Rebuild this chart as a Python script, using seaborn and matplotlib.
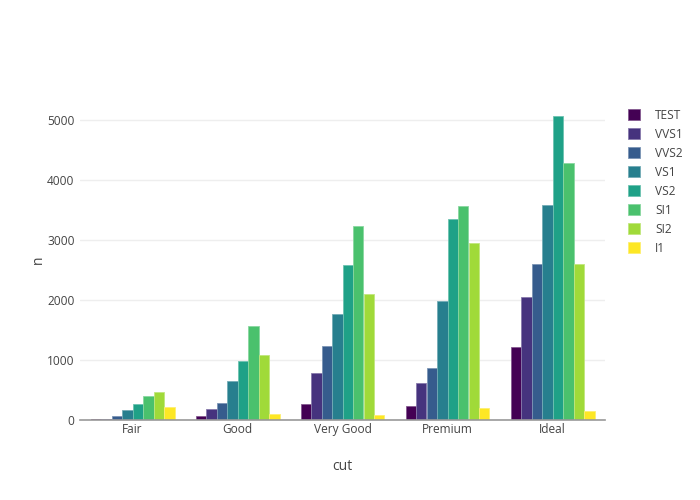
import seaborn as sns
import matplotlib.pyplot as plt
import matplotlib.colors as mcolors
import pandas as pd

# Dados (diamonds: contagem por corte e claridade)
cortes = ["Fair", "Good", "Very Good", "Premium", "Ideal"]
claridades = ["TEST", "VVS1", "VVS2", "VS1", "VS2", "SI1", "SI2", "I1"]
contagens = {
    "TEST": [9, 71, 268, 230, 1212],
    "VVS1": [17, 186, 789, 616, 2047],
    "VVS2": [69, 286, 1235, 870, 2606],
    "VS1": [170, 648, 1775, 1989, 3589],
    "VS2": [261, 978, 2591, 3357, 5071],
    "SI1": [408, 1560, 3240, 3575, 4282],
    "SI2": [466, 1081, 2100, 2949, 2598],
    "I1": [210, 96, 84, 205, 146],
}
cores = ["#440154", "#46337e", "#365c8d", "#277f8e",
         "#1fa187", "#4ac16d", "#a0da39", "#fde725"]

linhas = []
for c in claridades:
    for corte, n in zip(cortes, contagens[c]):
        linhas.append({"cut": corte, "clarity": c, "n": n})
df = pd.DataFrame(linhas)

sns.set_style("white")
plt.rcParams['font.family'] = ['Open Sans', 'DejaVu Sans']

fig = plt.figure(figsize=(7, 5), dpi=100)
ax = fig.add_axes([80 / 700, 80 / 500, 525 / 700, 320 / 500])

sns.barplot(data=df, x="cut", y="n", hue="clarity", order=cortes,
            hue_order=claridades, palette=cores, width=0.8, gap=0,
            errorbar=None, ax=ax, saturation=1)

# borda mais clara em cada barra
for barra in ax.patches:
    cor = mcolors.to_rgb(barra.get_facecolor())
    clara = tuple(v + (1 - v) * 0.35 for v in cor)
    barra.set_edgecolor(clara)
    barra.set_linewidth(0.6)

ax.set_xlim(-0.5, 4.5)
ax.set_ylim(0, 5338)
ax.set_yticks([0, 1000, 2000, 3000, 4000, 5000])
ax.grid(axis="y", color="#eeeeee", linewidth=1)
ax.set_axisbelow(True)
for lado in ["top", "right", "left"]:
    ax.spines[lado].set_visible(False)
ax.spines["bottom"].set_color("#999999")
ax.spines["bottom"].set_linewidth(1.2)
ax.tick_params(axis="both", length=0, labelsize=8.6, colors="#444444", pad=4)
ax.tick_params(axis="x", pad=2)
ax.set_xlabel("cut", fontsize=10, color="#444444", labelpad=17)
ax.set_ylabel("n", fontsize=10, color="#444444", labelpad=1)

ax.legend(title=None, loc="upper left", bbox_to_anchor=(1.024, 1.006),
          frameon=False, fontsize=8.6, handlelength=1.0, handleheight=1.0,
          labelspacing=0.5, handletextpad=1.25, labelcolor="#444444")

fig.savefig("out.png", dpi=100)
